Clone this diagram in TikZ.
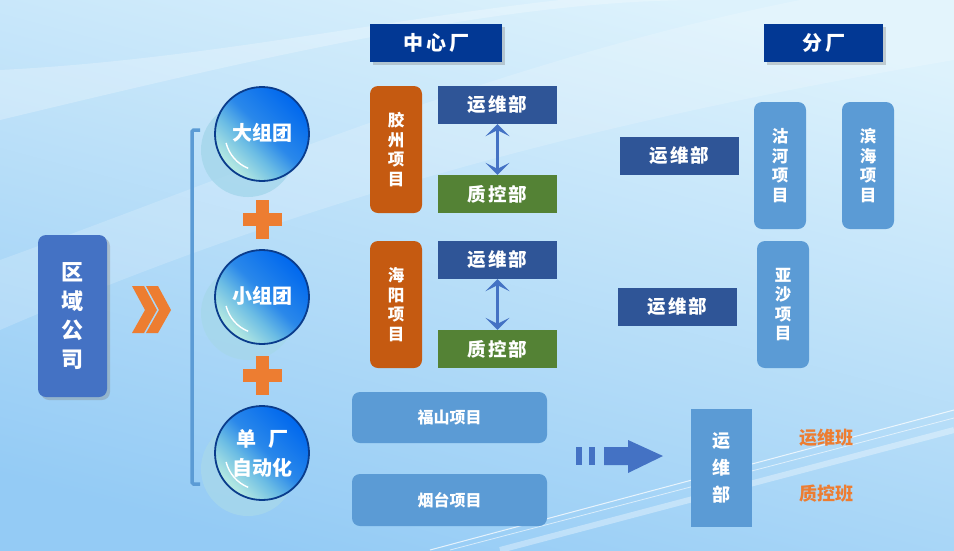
\documentclass[tikz,border=0pt]{standalone}
\usepackage{fontspec}
\setmainfont{Noto Sans CJK SC}
\usetikzlibrary{arrows.meta,shadows,calc}
\definecolor{bgtop}{HTML}{DDF2FC}
\definecolor{bgbot}{HTML}{94CBF5}
\definecolor{qyblue}{HTML}{4472C4}
\definecolor{hdrblue}{HTML}{023894}
\definecolor{projorange}{HTML}{C55A11}
\definecolor{ywblue}{HTML}{2F5597}
\definecolor{zkgreen}{HTML}{548235}
\definecolor{lightbox}{HTML}{5B9BD5}
\definecolor{accorange}{HTML}{ED7D31}
\definecolor{arrblue}{HTML}{4472C4}
\definecolor{circdark}{HTML}{0068EE}
\definecolor{circmid}{HTML}{2A88EA}
\definecolor{circtrans}{HTML}{6CBDE4}
\definecolor{circlight}{HTML}{B0E6E2}
\definecolor{circborder}{HTML}{0A3C8C}
\definecolor{circshadow}{HTML}{A6D7EC}
\pgfdeclarehorizontalshading{circshade}{100bp}{color(0bp)=(circlight); color(27bp)=(circlight); color(40bp)=(circtrans); color(52bp)=(circmid); color(75bp)=(circdark); color(100bp)=(circdark)}
\begin{document}
\begin{tikzpicture}[x=1pt,y=-1pt,
  base/.style={rectangle, inner sep=0pt, text=white, align=center},
  qybox/.style={base, fill=qyblue, rounded corners=8pt, minimum width=69pt, minimum height=162pt,
     font=\bfseries\fontsize{22}{29}\selectfont, drop shadow={shadow xshift=3pt, shadow yshift=-3pt, opacity=0.35}},
  hdr/.style={base, fill=hdrblue, minimum height=38pt, font=\bfseries\fontsize{20}{22}\selectfont,
     drop shadow={shadow xshift=3pt, shadow yshift=-3pt, opacity=0.35}},
  projbox/.style={base, fill=projorange, rounded corners=8pt, minimum width=52pt, minimum height=127pt,
     font=\bfseries\fontsize{16.5}{19.5}\selectfont},
  ywbox/.style={base, fill=ywblue, minimum width=119pt, minimum height=38pt, font=\bfseries\fontsize{18.5}{20}\selectfont},
  zkbox/.style={base, fill=zkgreen, minimum width=119pt, minimum height=38pt, font=\bfseries\fontsize{18.5}{20}\selectfont},
  ltproj/.style={base, fill=lightbox, rounded corners=8pt, minimum width=52pt, minimum height=127pt,
     font=\bfseries\fontsize{16.5}{19.5}\selectfont},
  wideproj/.style={base, fill=lightbox, rounded corners=8pt, minimum width=195pt, minimum height=52pt,
     font=\bfseries\fontsize{16}{18}\selectfont},
  vbox/.style={base, fill=lightbox, minimum width=61pt, minimum height=118pt, font=\bfseries\fontsize{18}{27}\selectfont},
  ban/.style={text=accorange, font=\bfseries\fontsize{18}{20}\selectfont, inner sep=0pt},
  circtext/.style={text=white, font=\bfseries\fontsize{20}{29}\selectfont, align=center, inner sep=0pt},
  dblarrow/.style={draw=arrblue, line width=2.6pt, {Stealth[length=12pt,width=24pt,inset=6pt]}-{Stealth[length=12pt,width=24pt,inset=6pt]}},
  plusfill/.style={fill=accorange},
  bracket/.style={draw=lightbox, line width=3.5pt, rounded corners=1.5pt},
]
\useasboundingbox (0,0) rectangle (954,550);
% background
\shade[top color=bgtop, bottom color=bgbot, shading angle=-15] (0,0) rectangle (954,550);
\fill[white, opacity=0.25] (0,120) .. controls (250,60) and (500,0) .. (700,0) -- (560,0) .. controls (380,20) and (200,60) .. (0,70) -- cycle;
\fill[white, opacity=0.18] (0,330) .. controls (300,200) and (600,120) .. (954,60) -- (954,0) -- (800,0) .. controls (500,60) and (250,170) .. (0,260) -- cycle;
\draw[white, opacity=0.75, line width=1pt] (430,550) -- (954,410);
\draw[white, opacity=0.6, line width=0.8pt] (450,550) -- (954,418);
\draw[white, opacity=0.35, line width=6pt] (500,550) -- (954,430);

% left company box
\node[qybox] (qy) at (72.5,316) {区\\域\\公\\司};

% chevrons
\fill[accorange] (132,286) -- (144,286) -- (157,310) -- (144,333) -- (132,333) -- (145,310) -- cycle;
\fill[accorange] (146,286) -- (158,286) -- (171,310) -- (158,333) -- (146,333) -- (159,310) -- cycle;

% bracket
\draw[bracket] (200,130) -- (192,130) -- (192,484) -- (200,484);

% circles
\foreach \cy/\nm in {134/c1, 297/c2, 453/c3}{
  \fill[circshadow, opacity=0.85] (248,\cy+16) circle[radius=47];
  \shade[shading=circshade, shading angle=45] (262,\cy) circle[radius=47];
  \draw[circborder, line width=1.8pt] (262,\cy) circle[radius=47];
  \draw[white, line width=1.4pt] (262,\cy) ++(166:37) arc[start angle=166, end angle=112, radius=37];
  \coordinate (\nm) at (262,\cy);
}
\node[circtext] (t1) at ($(c1)+(0,-1)$) {大组团};
\node[circtext] (t2) at ($(c2)+(0,-1)$) {小组团};
\node[circtext] (t3) at ($(c3)+(0,0)$) {单\hspace{0.6em}厂\\自动化};

% plus signs
\foreach \py in {219,375.5}{
  \fill[plusfill] (243,\py-6.5) rectangle (282,\py+6.5);
  \fill[plusfill] (256,\py-19.5) rectangle (269,\py+19.5);
}

% headers
\node[hdr, minimum width=132pt] (h1) at (436,43) {中\hspace{3pt}心\hspace{3pt}厂};
\node[hdr, minimum width=119pt] (h2) at (823.5,43) {分\hspace{3pt}厂};

% center plant
\node[projbox] (jz) at (396,149.5) {胶\\州\\项\\目};
\node[ywbox] (yw1) at (497.5,105) {运\hspace{2pt}维\hspace{2pt}部};
\node[zkbox] (zk1) at (497.5,194) {质\hspace{2pt}控\hspace{2pt}部};
\draw[dblarrow] (yw1.south) -- (zk1.north);

\node[projbox] (hy) at (396,304.5) {海\\阳\\项\\目};
\node[ywbox] (yw2) at (497.5,260) {运\hspace{2pt}维\hspace{2pt}部};
\node[zkbox] (zk2) at (497.5,349) {质\hspace{2pt}控\hspace{2pt}部};
\draw[dblarrow] (yw2.south) -- (zk2.north);

% branch plants
\node[ywbox] (ywr1) at (679.5,156) {运\hspace{2pt}维\hspace{2pt}部};
\node[ltproj] (gh) at (780,165.5) {沽\\河\\项\\目};
\node[ltproj] (bh) at (868,165.5) {滨\\海\\项\\目};
\node[ywbox] (ywr2) at (677.5,307) {运\hspace{2pt}维\hspace{2pt}部};
\node[ltproj] (ys) at (783,304.5) {亚\\沙\\项\\目};

% single plants
\node[wideproj, minimum height=51pt] (fs) at (449.5,417.5) {福山项目};
\node[wideproj] (yt) at (449.5,500) {烟台项目};

% block arrow
\fill[arrblue] (576,447) rectangle (582,465);
\fill[arrblue] (589,447) rectangle (595,465);
\fill[arrblue] (604,447) -- (628,447) -- (628,440) -- (663,456) -- (628,473) -- (628,465) -- (604,465) -- cycle;

\node[vbox] (ywb) at (721.5,468) {运\\维\\部};
\node[ban] (b1) at (826,438) {运维班};
\node[ban] (b2) at (826,494) {质控班};
\end{tikzpicture}
\end{document}
